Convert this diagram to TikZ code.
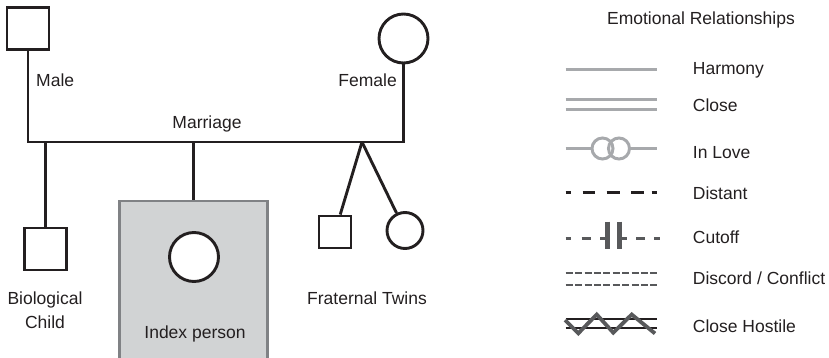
\documentclass[tikz,border=0pt]{standalone}
\usepackage{fontspec}
\setmainfont{Liberation Sans}
\definecolor{ink}{HTML}{231F20}
\definecolor{softgrey}{HTML}{A7A9AC}
\definecolor{midgrey}{HTML}{58595B}
\definecolor{boxfill}{HTML}{D1D3D4}
\definecolor{boxedge}{HTML}{808285}
\begin{document}
\begin{tikzpicture}[x=1pt,y=-1pt,
  every node/.style={font=\fontsize{17.5}{20}\selectfont, text=ink, inner sep=0pt},
  lbl/.style={anchor=base},
  lbll/.style={anchor=base west},
  male/.style={draw=ink, line width=2.9pt, minimum size=#1, rectangle},
  female/.style={draw=ink, line width=2.9pt, minimum size=#1, circle, fill=white},
  kin/.style={draw=ink, line width=2.9pt},
]
\useasboundingbox (0,0) rectangle (829,358);

% ---------- pedigree ----------
\node[male=42pt] (father) at (28,28.5) {};
\node[female=49pt] (mother) at (403.5,38.5) {};
\coordinate (mL) at (28,142);
\coordinate (mR) at (403.5,142);
\draw[kin] (father.south) -- (mL) -- (mR) -- (mother.south);
\node[lbll] (malelbl) at (36,86.5) {Male};
\node[anchor=base east] (femalelbl) at (397,86.5) {Female};
\node[lbl] (marriagelbl) at (207,128.3) {Marriage};

% biological child
\node[male=42pt] (child) at (45.5,249) {};
\coordinate (cTop) at (45.5,142);
\draw[kin] (cTop) -- (child.north);
\node[lbl] (childlbl1) at (45,304) {Biological};
\node[lbl] (childlbl2) at (45,328.3) {Child};

% index person
\node[draw=boxedge, fill=boxfill, line width=2.2pt, minimum width=148pt, minimum height=170pt, anchor=north] (indexbox) at (193.5,199.5) {};
\coordinate (iTop) at (193.5,142);
\draw[kin] (iTop) -- (indexbox.north);
\node[female=49pt] (index) at (194,257) {};
\node[lbl] (indexlbl) at (195,338.3) {Index person};

% fraternal twins
\coordinate (apex) at (362,142);
\node[male=32pt] (twinM) at (335,232) {};
\node[female=36pt] (twinF) at (405,230.5) {};
\draw[kin] (apex) -- (twinM);
\draw[kin] (apex) -- (twinF);
\node[lbl] (twinslbl) at (367,304) {Fraternal Twins};

% ---------- legend ----------
\node[lbl] (legtitle) at (701,25) {Emotional Relationships};

\def\lx{565.7}
\def\rx{657.3}
\def\tx{692.7}

% harmony
\coordinate (h1) at (\lx,70);
\coordinate (h2) at (\rx,70);
\draw[softgrey, line width=3pt] (h1) -- (h2);
\node[lbll] (harmony) at (\tx,75) {Harmony};

% close
\coordinate (c1) at (\lx,99.5);
\coordinate (c2) at (\rx,99.5);
\coordinate (c3) at (\lx,110);
\coordinate (c4) at (\rx,110);
\draw[softgrey, line width=3pt] (c1) -- (c2) (c3) -- (c4);
\node[lbll] (close) at (\tx,111.7) {Close};

% in love
\node[circle, draw=softgrey, line width=3pt, minimum size=21pt] (loveA) at (602.5,148.5) {};
\node[circle, draw=softgrey, line width=3pt, minimum size=21pt] (loveB) at (619,148.5) {};
\coordinate (l1) at (\lx,148.5);
\coordinate (l2) at (\rx,148.5);
\draw[softgrey, line width=3pt] (l1) -- (loveA.west) (loveB.east) -- (l2);
\node[lbll] (inlove) at (\tx,158.3) {In Love};

% distant
\coordinate (d1) at (\lx,192.3);
\coordinate (d2) at (\rx,192.3);
\draw[ink, line width=2.6pt, dash pattern=on 5pt off 12pt on 12.5pt off 11.5pt on 13pt off 11.5pt on 12.5pt off 8pt on 5pt] (d1) -- (d2);
\node[lbll] (distant) at (\tx,200) {Distant};

% cutoff
\coordinate (k1) at (\lx,238.3);
\coordinate (k2) at (604.5,238.3);
\coordinate (k3) at (622,238.3);
\coordinate (k4) at (660,238.3);
\draw[midgrey, line width=2.6pt, dash pattern=on 5pt off 11pt on 9pt off 9.5pt on 5pt off 10pt] (k1) -- (k2);
\draw[midgrey, line width=2.6pt, dash pattern=on 5pt off 9pt on 9pt off 9pt on 6pt off 10pt] (k3) -- (k4);
\coordinate (b1t) at (607.5,221.5);
\coordinate (b1b) at (607.5,248.5);
\coordinate (b2t) at (619.2,221.5);
\coordinate (b2b) at (619.2,248.5);
\draw[midgrey, line width=5pt] (b1t) -- (b1b) (b2t) -- (b2b);
\node[lbll] (cutoff) at (\tx,243.3) {Cutoff};

% discord / conflict
\coordinate (q1) at (\lx,273.3);
\coordinate (q2) at (\rx,273.3);
\coordinate (q3) at (\lx,285);
\coordinate (q4) at (\rx,285);
\draw[midgrey, line width=1.9pt, dash pattern=on 7pt off 2.4pt] (q1) -- (q2) (q3) -- (q4);
\node[lbll] (discord) at (\tx,284) {Discord / Conflict};

% close hostile
\coordinate (s1) at (\lx,319.3);
\coordinate (s2) at (\rx,319.3);
\coordinate (s3) at (\lx,328.3);
\coordinate (s4) at (\rx,328.3);
\draw[ink, line width=2.1pt] (s1) -- (s2) (s3) -- (s4);
\coordinate (z0) at (565,320);
\coordinate (z1) at (578.3,333.3);
\coordinate (z2) at (596.7,314.5);
\coordinate (z3) at (613.3,332.7);
\coordinate (z4) at (631.7,314.5);
\coordinate (z5) at (655,333.5);
\draw[midgrey, line width=3.8pt, line join=miter] (z0) -- (z1) -- (z2) -- (z3) -- (z4) -- (z5);
\node[lbll] (hostile) at (\tx,332.3) {Close Hostile};
\end{tikzpicture}
\end{document}
